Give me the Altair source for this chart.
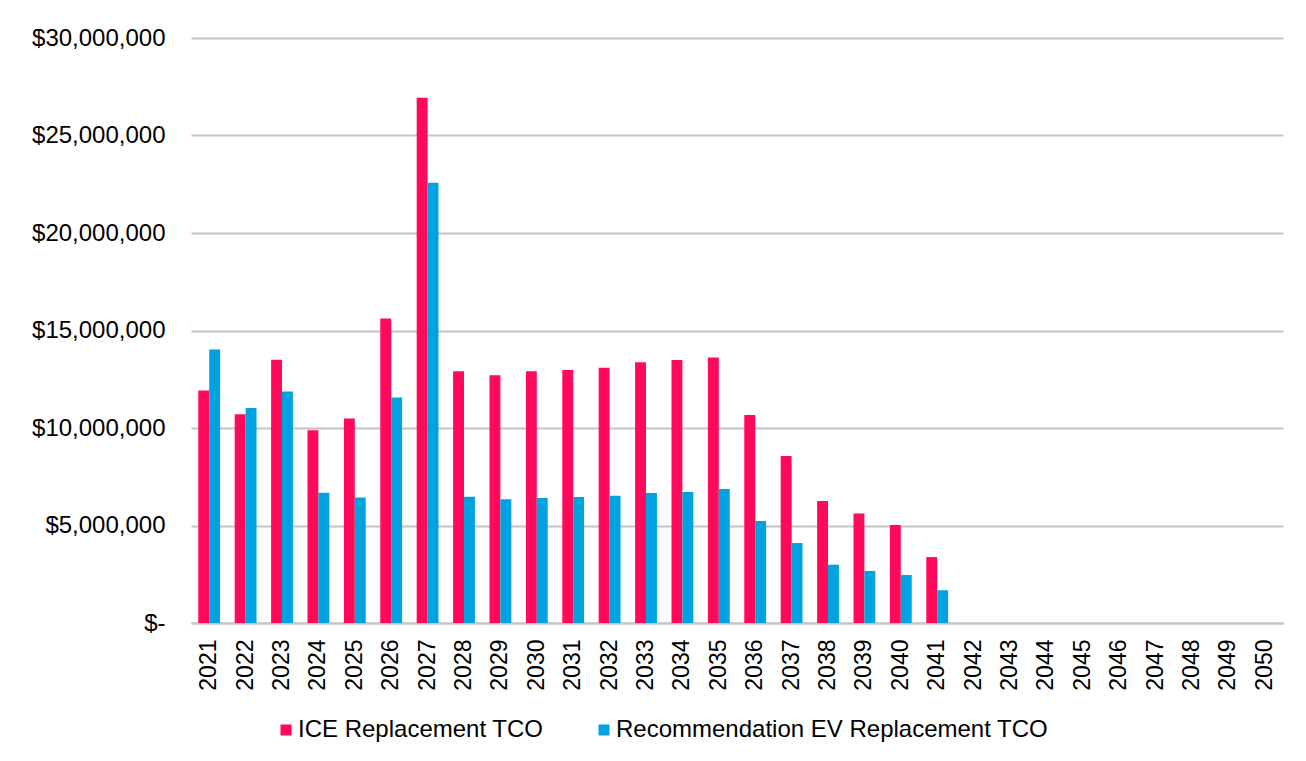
import altair as alt
import pandas as pd

years = [str(y) for y in range(2021, 2051)]
ice = [11.92, 10.70, 13.50, 9.89, 10.49, 15.62, 26.94, 12.91, 12.70, 12.91,
       12.97, 13.09, 13.37, 13.49, 13.62, 10.67, 8.56, 6.26, 5.61, 5.03,
       3.38, 0, 0, 0, 0, 0, 0, 0, 0, 0]
ev = [14.03, 11.03, 11.87, 6.68, 6.43, 11.56, 22.58, 6.47, 6.34, 6.41,
      6.46, 6.53, 6.67, 6.72, 6.87, 5.23, 4.10, 2.99, 2.67, 2.46,
      1.68, 0, 0, 0, 0, 0, 0, 0, 0, 0]
series = ["ICE Replacement TCO", "Recommendation EV Replacement TCO"]
colors = ["#FF0A5A", "#00A2E0"]

rows = []
for i, y in enumerate(years):
    rows.append({"year": y, "series": series[0], "order": 0, "value": ice[i] * 1e6})
    rows.append({"year": y, "series": series[1], "order": 1, "value": ev[i] * 1e6})
df = pd.DataFrame(rows)

FONT = "Liberation Sans"

chart = alt.Chart(df).mark_bar().encode(
    x=alt.X("year:N", sort=years,
            scale=alt.Scale(paddingInner=0.4, paddingOuter=0.2),
            axis=alt.Axis(title=None, labelAngle=270, labelFontSize=23, labelFont=FONT,
                          labelColor="#000000", labelPadding=16, ticks=False,
                          domainColor="#C4C4C4", domainWidth=2, labelOverlap=False)),
    xOffset=alt.XOffset("order:O"),
    y=alt.Y("value:Q", scale=alt.Scale(domain=[0, 30000000], nice=False),
            axis=alt.Axis(title=None, values=[0, 5e6, 10e6, 15e6, 20e6, 25e6, 30e6],
                          labelExpr="datum.value == 0 ? '$-\u00a0\u00a0' : '$' + format(datum.value, ',')",
                          labelFontSize=24, labelFont=FONT, labelColor="#000000",
                          labelPadding=26, ticks=False, domain=False,
                          gridColor="#C4C4C4", gridWidth=2)),
    color=alt.Color("series:N", sort=series,
                    scale=alt.Scale(domain=series, range=colors),
                    legend=alt.Legend(title=None, orient="none", direction="horizontal",
                                      legendX=83, legendY=680, symbolType="square",
                                      symbolSize=121, symbolStrokeWidth=0,
                                      labelFontSize=24, labelFont=FONT, labelColor="#000000",
                                      labelLimit=0, labelOffset=0, columnPadding=48, padding=0)),
).properties(
    width=1092, height=585,
    autosize=alt.AutoSizeParams(type="none"),
    padding={"left": 183, "top": 30, "right": 15, "bottom": 130},
).configure_view(stroke=None)

chart.save("out.html", embed_options={"renderer": "svg", "actions": False})
